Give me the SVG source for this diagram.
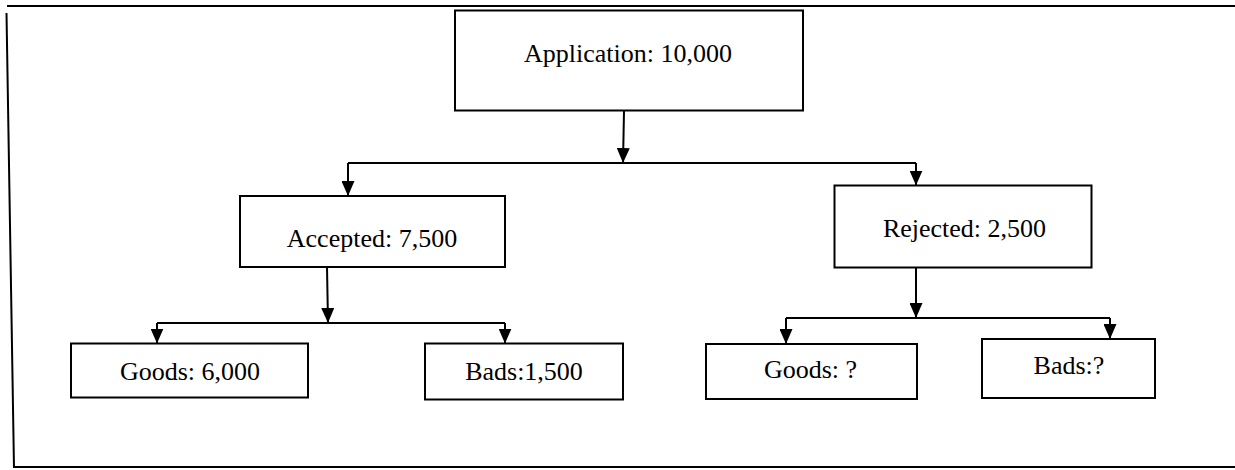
<svg xmlns="http://www.w3.org/2000/svg" width="1235" height="470" viewBox="0 0 1235 470">
  <style>
    .box { fill: #ffffff; stroke: #000000; stroke-width: 2; }
    .lbl { font-family: "Liberation Serif", "Times New Roman", serif; font-size: 26px; fill: #000000; text-anchor: middle; }
    .wire { fill: none; stroke: #000000; stroke-width: 2; }
    .frame { fill: none; stroke: #000000; stroke-width: 2; }
  </style>
  <defs>
    <marker id="arrow" markerUnits="userSpaceOnUse" markerWidth="15" markerHeight="13" refX="15" refY="6.5" orient="auto">
      <path d="M0,0 L15,6.5 L0,13 z" fill="#000000"/>
    </marker>
  </defs>

  <rect x="0" y="0" width="1235" height="470" fill="#ffffff"/>

  <!-- page frame -->
  <g id="frame">
    <line class="frame" x1="7" y1="6" x2="1235" y2="6"/>
    <line class="frame" x1="6.5" y1="13" x2="14" y2="468"/>
    <line class="frame" x1="13" y1="467" x2="1235" y2="467"/>
  </g>

  <!-- connectors -->
  <g id="connectors">
    <line class="wire" x1="624" y1="111" x2="623" y2="163" marker-end="url(#arrow)"/>
    <line class="wire" x1="348" y1="163" x2="916" y2="163"/>
    <line class="wire" x1="348" y1="163" x2="348" y2="196" marker-end="url(#arrow)"/>
    <line class="wire" x1="916" y1="163" x2="916" y2="185.5" marker-end="url(#arrow)"/>

    <line class="wire" x1="327" y1="267" x2="328" y2="323" marker-end="url(#arrow)"/>
    <line class="wire" x1="157" y1="323" x2="505" y2="323"/>
    <line class="wire" x1="157" y1="323" x2="157" y2="343.5" marker-end="url(#arrow)"/>
    <line class="wire" x1="505" y1="323" x2="505" y2="343.5" marker-end="url(#arrow)"/>

    <line class="wire" x1="916" y1="267" x2="916" y2="318" marker-end="url(#arrow)"/>
    <line class="wire" x1="786" y1="318" x2="1110" y2="318"/>
    <line class="wire" x1="786" y1="318" x2="786" y2="344" marker-end="url(#arrow)"/>
    <line class="wire" x1="1110" y1="318" x2="1110" y2="339" marker-end="url(#arrow)"/>
  </g>

  <g id="application">
    <rect class="box" x="455" y="10.5" width="348" height="100"/>
    <text class="lbl" x="628" y="62">Application: 10,000</text>
  </g>

  <g id="accepted">
    <rect class="box" x="240" y="196" width="265" height="71"/>
    <text class="lbl" x="372" y="247">Accepted: 7,500</text>
  </g>

  <g id="rejected">
    <rect class="box" x="834.5" y="185.5" width="257" height="82"/>
    <text class="lbl" x="964.5" y="237">Rejected: 2,500</text>
  </g>

  <g id="accepted-goods">
    <rect class="box" x="71" y="343.5" width="237" height="54"/>
    <text class="lbl" x="190" y="380">Goods: 6,000</text>
  </g>

  <g id="accepted-bads">
    <rect class="box" x="425" y="343.5" width="198" height="56"/>
    <text class="lbl" x="524" y="380">Bads:1,500</text>
  </g>

  <g id="rejected-goods">
    <rect class="box" x="706" y="344" width="211" height="55"/>
    <text class="lbl" x="810.5" y="378">Goods: ?</text>
  </g>

  <g id="rejected-bads">
    <rect class="box" x="982" y="339" width="173" height="59"/>
    <text class="lbl" x="1069" y="374">Bads:?</text>
  </g>
</svg>
